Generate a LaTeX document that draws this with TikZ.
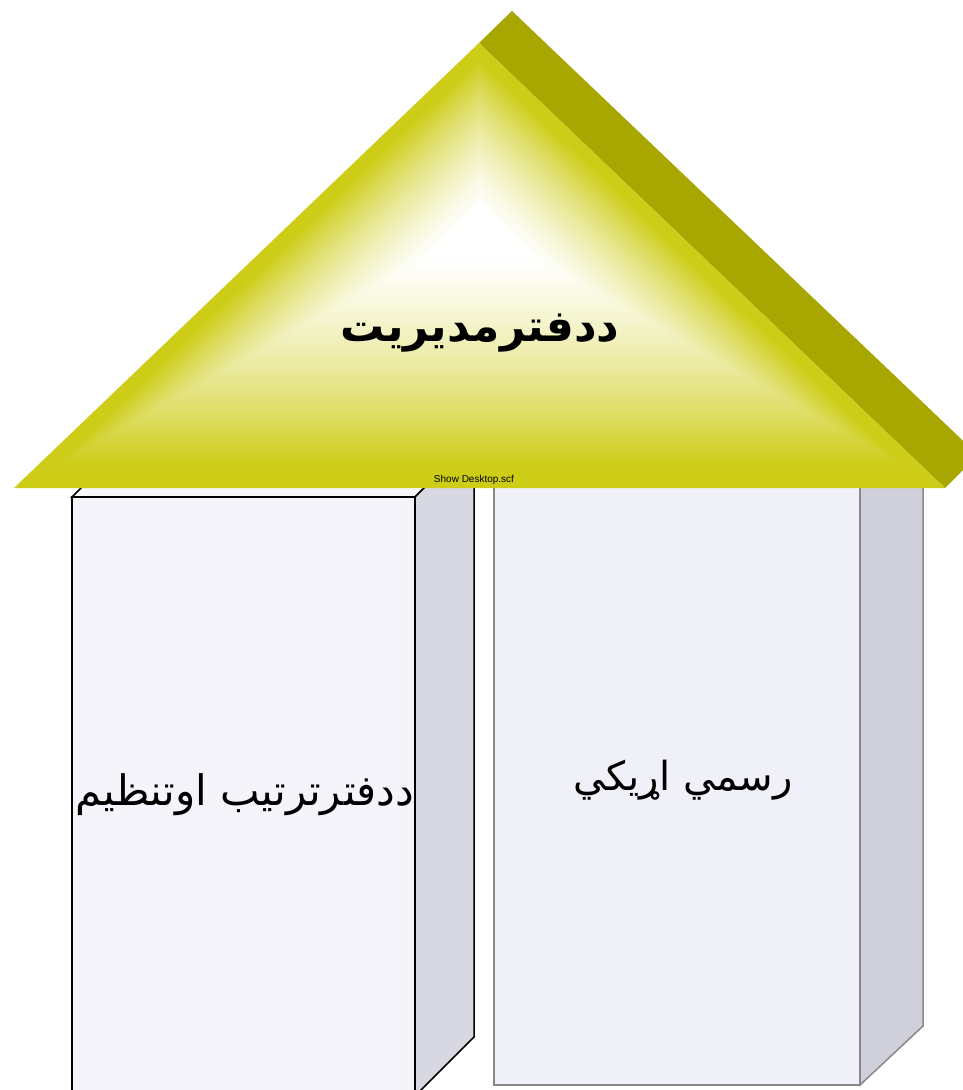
\documentclass[tikz,border=0pt]{standalone}
\usepackage{fontspec}
\usetikzlibrary{calc}
\newfontfamily\arabicfont[Script=Arabic]{DejaVu Sans}
\setsansfont{Liberation Sans}
\TeXXeTstate=1
\definecolor{roofyel}{RGB}{205,204,22}
\definecolor{roofdark}{RGB}{168,166,0}
\definecolor{lfront}{RGB}{244,244,250}
\definecolor{lside}{RGB}{216,216,226}
\definecolor{rfront}{RGB}{240,240,248}
\definecolor{rside}{RGB}{208,208,218}
\definecolor{rline}{RGB}{136,136,136}
\tikzset{
  lbox/.style={draw=black, line width=1.5pt, line join=miter},
  rbox/.style={draw=rline, line width=1.5pt, line join=miter},
  artext/.style={font=\arabicfont\fontsize{#1}{#1}\selectfont, inner sep=0pt},
}
\begin{document}
\begin{tikzpicture}[x=1pt,y=-1pt]
\useasboundingbox (0,0) rectangle (963,1090);
\clip (0,0) rectangle (963,1090);
% left box
\filldraw[lbox, fill=lfront!60!white] (72,497) -- (131,438) -- (474,438) -- (415,497) -- cycle;
\filldraw[lbox, fill=lside] (415,497) -- (474,438) -- (474,1037) -- (415,1096) -- cycle;
\filldraw[lbox, fill=lfront] (72,497) rectangle (415,1110);
% right box
\filldraw[rbox, fill=rside] (860,470) -- (923,470) -- (923,1026) -- (860,1085) -- cycle;
\filldraw[rbox, fill=rfront] (494,470) rectangle (860,1085);
% roof
\coordinate (A) at (479,43);
\coordinate (B) at (14,488);
\coordinate (C) at (945,488);
\coordinate (P) at (480,228);
\fill[roofdark] (A) -- (512,11) -- (978,455) -- (C) -- cycle;
\foreach \i in {0,...,80} {
  \pgfmathsetmacro\s{1-\i/80}
  \pgfmathsetmacro\t{max(0,min(1,(\s-0.12)/0.8))}
  \pgfmathsetmacro\p{100*\t*(0.55+0.45*\t)}
  \fill[roofyel!\p!white] ($(P)!\s!(A)$) -- ($(P)!\s!(B)$) -- ($(P)!\s!(C)$) -- cycle;
}
% texts
\node[font=\arabicfont\bfseries\fontsize{44}{44}\selectfont, inner sep=0pt] (roofT) at (480,333) {\beginR ددفترمديريت\endR};
\node[font=\sffamily\fontsize{10}{11}\selectfont, inner sep=0pt] (scf) at (474,480) {Show Desktop.scf};
\node[artext=42] (leftT) at (245,795) {\beginR ددفترترتيب اوتنظيم\endR};
\node[artext=40] (rightT) at (683,780) {\beginR رسمي اړيکي\endR};
\end{tikzpicture}
\end{document}
